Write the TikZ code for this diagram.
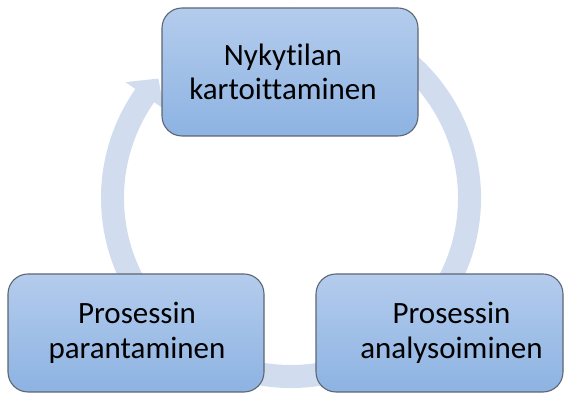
\documentclass[tikz,border=0pt]{standalone}
\usepackage{fontspec}
\setmainfont[Ligatures={NoCommon}]{Carlito}

\definecolor{ringblue}{RGB}{209,221,238}
\definecolor{boxtop}{RGB}{180,204,237}
\definecolor{boxbottom}{RGB}{141,179,226}
\definecolor{boxline}{RGB}{92,102,116}

\tikzset{
    stagebox/.style={draw=boxline, line width=1.1pt, rounded corners=20pt,
        top color=boxtop, bottom color=boxbottom},
    stagetext/.style={align=center, font=\fontsize{31}{34.5}\selectfont, inner sep=0pt},
    ring/.style={fill=ringblue}
}

\begin{document}
\begin{tikzpicture}[x=1pt, y=1pt]

        % (x, y) in pt: x horizontal, y vertical
        \useasboundingbox (0, 0) rectangle (564, 403);

        % centre of the cycle
        \coordinate (c) at (291, 205);

        % the ring, with its head at the top left
        \fill[ring] ([shift={(110:190)}]c) arc[start angle=110, end angle=-215, radius=190]
            -- ([shift={(145:202)}]c) -- ([shift={(138:178.5)}]c)
            -- ([shift={(145:155)}]c) -- ([shift={(-215:167)}]c)
            arc[start angle=-215, end angle=110, radius=167] -- cycle;

        % the three stages
        \node[stagebox, minimum width=256, minimum height=128,
            label={[stagetext, xshift=-7]center:{Nykytilan\\kartoittaminen}}] (kartoitus) at (290, 331) {};
        \node[stagebox, minimum width=247, minimum height=118,
            label={[stagetext, xshift=12]center:{Prosessin\\analysoiminen}}] (analyysi) at (439.5, 70) {};
        \node[stagebox, minimum width=256, minimum height=118,
            label={[stagetext, xshift=1]center:{Prosessin\\parantaminen}}] (parannus) at (136, 70) {};

    \end{tikzpicture}
\end{document}
